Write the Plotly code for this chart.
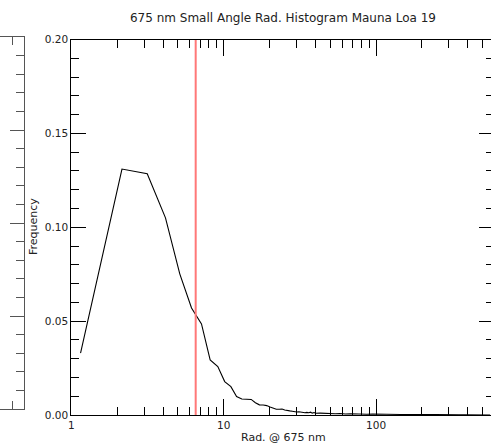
import math
import plotly.graph_objects as go

# ---- data ----
rad_bins = [1.15, 2.15, 3.15, 4.15, 5.15, 6.15, 7.15, 8.15, 9.15, 10.15,
            11.15, 12.15, 13.15, 14.15, 15.15, 16.15, 17.15, 18.15, 19.15, 20.15,
            21.15, 22.15, 23.15, 24.15, 25.15, 26.15, 27.15, 28.15, 29.15, 30.15,
            31.15, 32.15, 33.15, 34.15, 35.15, 36.15, 37.15, 38.15, 39.15, 40.15,
            43, 46, 50, 54, 58, 63, 68, 74, 80, 87, 95, 103, 112, 122, 133, 145,
            158, 172, 188, 205, 224, 245, 268, 293, 320, 350, 383, 420, 460, 505, 560]
frequency = [0.033, 0.131, 0.1285, 0.105, 0.0752, 0.057, 0.0485, 0.0293, 0.0258, 0.0178,
             0.0151, 0.0098, 0.0085, 0.0084, 0.0083, 0.0065, 0.0054, 0.0053, 0.0050, 0.0042,
             0.0035, 0.0031, 0.0031, 0.0032, 0.0027, 0.0023, 0.0022, 0.0020, 0.0017, 0.0016,
             0.0017, 0.0014, 0.0013, 0.0012, 0.0014, 0.0012, 0.0015, 0.0010, 0.0013, 0.0009,
             0.0010, 0.0008, 0.0009, 0.0007, 0.0008, 0.0005, 0.0007, 0.0005, 0.0006, 0.0004,
             0.0005, 0.0004, 0.0004, 0.0003, 0.0004, 0.0003, 0.0003, 0.0002, 0.0003, 0.0002,
             0.0002, 0.0002, 0.0001, 0.0002, 0.0001, 0.0001, 0.0001, 0.0001, 0.0000, 0.0001, 0.0000]
mean_rad = 6.55

x_range = [1, 594]
y_range = [0.0, 0.20]
x_major = [1, 10, 100]
x_major_text = ["1", "10", "100"]
x_minor = [2, 3, 4, 5, 6, 7, 8, 9, 20, 30, 40, 50, 60, 70, 80, 90, 200, 300, 400, 500]

title_text = "675 nm Small Angle Rad. Histogram Mauna Loa 19"
x_title = "Rad. @ 675 nm"
y_title = "Frequency"

FONT = "DejaVu Sans"
W, H = 494, 444   # slightly wider than the window: right frame edge falls just outside

fig = go.Figure()
fig.add_trace(go.Scatter(x=rad_bins, y=frequency, mode="lines",
                         line=dict(color="black", width=1.1),
                         showlegend=False, hoverinfo="skip"))
fig.add_trace(go.Scatter(x=[mean_rad, mean_rad], y=y_range, mode="lines",
                         line=dict(color="rgb(255,120,120)", width=2),
                         yaxis="y3", showlegend=False, hoverinfo="skip"))
# empty trace so the neighbouring (cut-off) panel frame is drawn
fig.add_trace(go.Scatter(x=[None], y=[None], xaxis="x2", yaxis="y2",
                         showlegend=False, hoverinfo="skip"))

x_dom = [71.3 / W, 1.0]
y_dom = [1 - 415 / H, 1 - 39.5 / H]

tickfont = dict(family=FONT, size=10.5, color="#222")

fig.update_layout(
    template="none",
    width=W, height=H,
    margin=dict(l=0, r=0, t=0, b=0),
    paper_bgcolor="white", plot_bgcolor="white",
    font=dict(family=FONT, color="#222"),
    title=dict(text=title_text, font=dict(family=FONT, size=12, color="#222"),
               xref="container", yref="container", x=283 / W, y=1 - 18 / H,
               xanchor="center", yanchor="middle"),
    xaxis=dict(type="log", range=[math.log10(x_range[0]), math.log10(x_range[1])],
               domain=x_dom, anchor="y",
               showline=True, linecolor="black", linewidth=1, mirror="ticks",
               ticks="inside", ticklen=16, tickcolor="black", tickwidth=1,
               tickvals=x_major, ticktext=x_major_text, tickfont=tickfont,
               showgrid=False, zeroline=False, automargin=False,
               minor=dict(tickvals=x_minor, ticks="inside", ticklen=8,
                          tickcolor="black", tickwidth=1, showgrid=False)),
    yaxis=dict(range=y_range, domain=y_dom, anchor="x",
               showline=True, linecolor="black", linewidth=1, mirror="ticks",
               ticks="inside", ticklen=15, tickcolor="black", tickwidth=1,
               dtick=0.05, tick0=0, tickformat=".2f", tickfont=tickfont,
               showgrid=False, zeroline=False, automargin=False,
               minor=dict(dtick=0.01, ticks="inside", ticklen=8,
                          tickcolor="black", tickwidth=1, showgrid=False)),
    yaxis3=dict(range=y_range, overlaying="y", side="right", anchor="x",
                showline=False, ticks="", showticklabels=False,
                showgrid=False, zeroline=False, automargin=False),
    # partially visible neighbouring panel on the left edge
    xaxis2=dict(range=[0, 1], domain=[0, 24 / W], anchor="y2",
                showline=True, linecolor="#555", linewidth=1, mirror="ticks",
                ticks="inside", ticklen=8, tickcolor="#555", tickvals=[0.5],
                showticklabels=False, showgrid=False, zeroline=False, automargin=False),
    yaxis2=dict(range=y_range, domain=[1 - 409 / H, 1 - 37 / H], anchor="x2", side="right",
                showline=True, linecolor="#555", linewidth=1,
                ticks="inside", ticklen=14, tickcolor="#555", dtick=0.05, tick0=0,
                showticklabels=False, showgrid=False, zeroline=False, automargin=False,
                minor=dict(dtick=0.01, ticks="inside", ticklen=8, tickcolor="#555",
                           showgrid=False)),
    annotations=[
        dict(text=x_title, xref="paper", yref="paper", x=283 / W, y=1 - 437 / H,
             xanchor="center", yanchor="middle", showarrow=False,
             font=dict(family=FONT, size=11, color="#222")),
        dict(text=y_title, xref="paper", yref="paper", x=33 / W, y=1 - 227 / H,
             xanchor="center", yanchor="middle", showarrow=False, textangle=-90,
             font=dict(family=FONT, size=11, color="#222")),
    ],
)

fig.write_html("out.html", config={"displayModeBar": False},
               post_script="document.body.style.margin='0';")
